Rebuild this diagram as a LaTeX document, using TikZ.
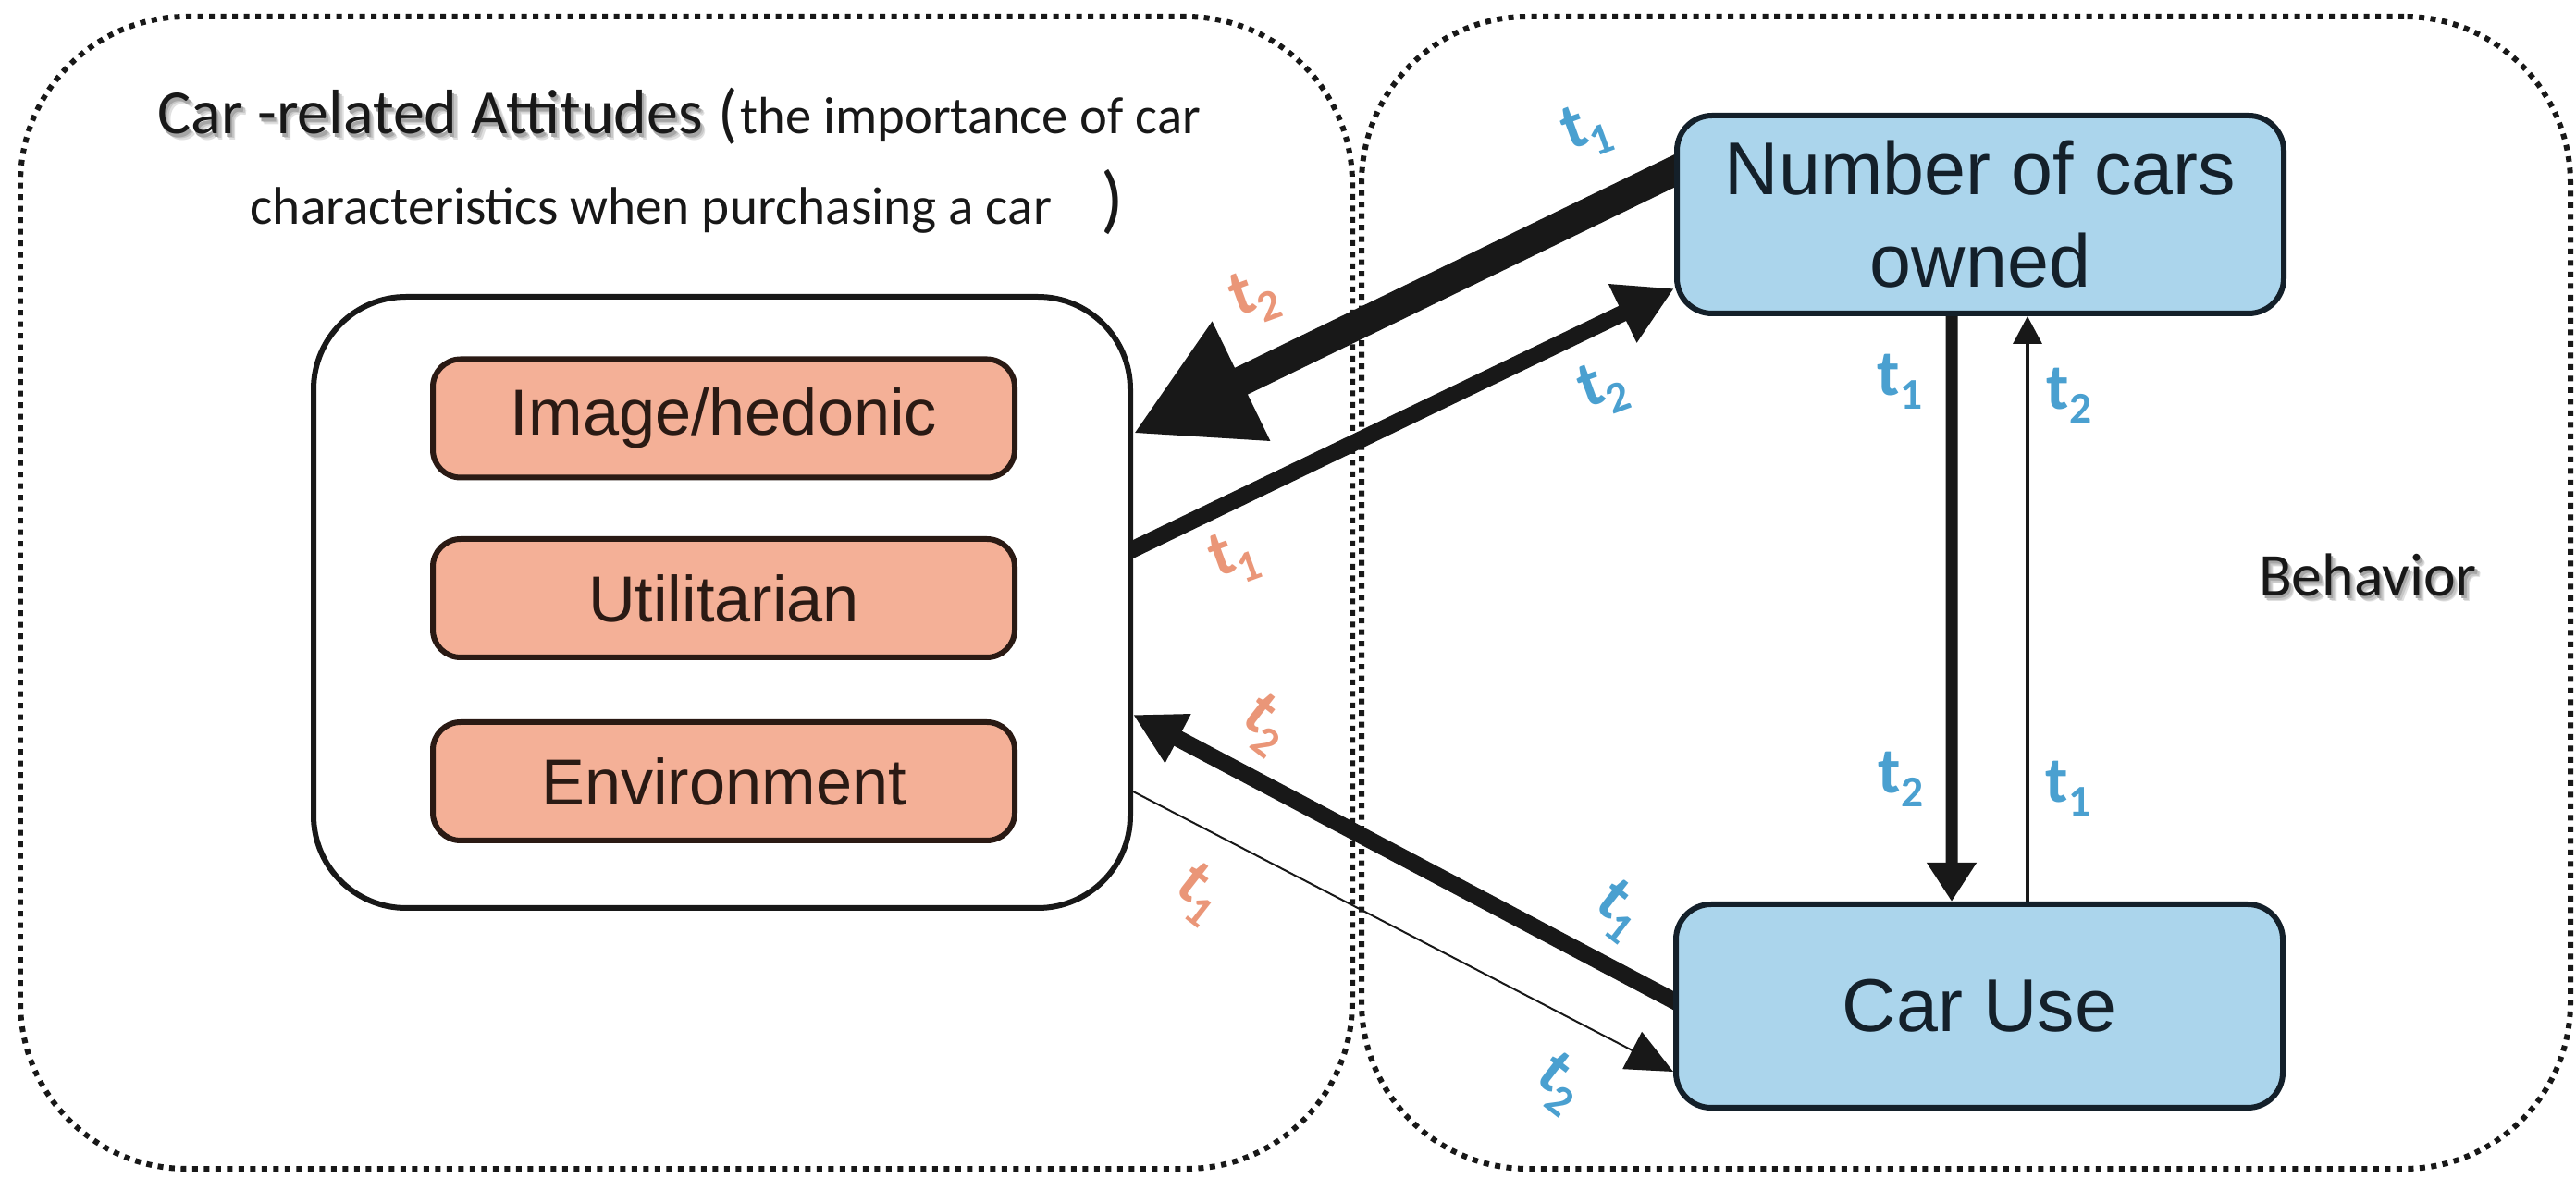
\documentclass[tikz,border=0pt]{standalone}
\usepackage{fontspec}
\setmainfont{Liberation Sans}
\newfontfamily\calibfont{Carlito}
\usetikzlibrary{arrows.meta,calc}

\definecolor{boxblue}{RGB}{171,213,236}
\definecolor{boxorange}{RGB}{244,176,151}
\definecolor{lblblue}{RGB}{74,160,208}
\definecolor{lblorange}{RGB}{234,150,120}
\definecolor{inkblue}{RGB}{20,32,42}
\definecolor{inkbrown}{RGB}{42,26,20}
\definecolor{ink}{RGB}{24,24,24}

% text with a soft grey drop shadow, kept inside one box
\newcommand\shadowed[1]{\leavevmode
  \rlap{\kern1.6pt\raisebox{-1.9pt}{\textcolor{black!12}{#1}}}%
  \rlap{\kern1.2pt\raisebox{-1.4pt}{\textcolor{black!22}{#1}}}%
  \rlap{\kern0.6pt\raisebox{-1.0pt}{\textcolor{black!35}{#1}}}%
  #1}
% time index: t with a large lowered subscript
\newcommand\tidx[1]{t\raisebox{-0.22em}{\fontsize{13.5}{14}\selectfont #1}}

\pgfdeclarelayer{panels}
\pgfdeclarelayer{links}
\pgfsetlayers{panels,links,main}

\tikzset{
  panel/.style={draw=ink, line width=0.06cm, dash pattern=on 0.06cm off 0.065cm,
    rounded corners=1.8cm, inner sep=0pt},
  groupbox/.style={draw=ink, fill=white, line width=0.06cm, rounded corners=1.0cm,
    inner sep=0pt, minimum width=8.83cm, minimum height=6.61cm},
  attitem/.style={draw=inkbrown, fill=boxorange, line width=0.06cm, rounded corners=0.3cm,
    minimum width=6.29cm, minimum height=1.28cm, inner sep=0pt, text=inkbrown,
    font=\fontsize{20}{24}\selectfont},
  behitem/.style={draw=inkblue, fill=boxblue, line width=0.06cm, rounded corners=0.38cm,
    minimum width=6.56cm, inner sep=0pt, text=inkblue, align=center,
    font=\fontsize{23}{28.4}\selectfont},
  tlab/.style={inner sep=0pt, font=\calibfont\bfseries\fontsize{20}{22}\selectfont},
  tblue/.style={tlab, text=lblblue},
  torange/.style={tlab, text=lblorange},
  heading/.style={inner sep=0pt, anchor=base west, text=ink},
  link/.style={draw=ink, line cap=butt},
  bigshaft/.style={link, line width=0.32cm, -{Triangle[length=1.3cm,width=1.34cm]}},
  midshaft/.style={link, line width=0.18cm, -{Triangle[length=0.62cm,width=0.66cm]}},
  lowshaft/.style={link, line width=0.18cm, -{Triangle[length=0.55cm,width=0.56cm]}},
  fineshaft/.style={link, line width=0.02cm, -{Triangle[length=0.5cm,width=0.45cm]}},
  downshaft/.style={link, line width=0.13cm, -{Triangle[length=0.42cm,width=0.51cm]}},
  upshaft/.style={link, line width=0.035cm, -{Triangle[length=0.3cm,width=0.31cm]}},
  titlefont/.style={font=\calibfont\fontsize{19.3}{23}\selectfont},
  behfont/.style={font=\calibfont\fontsize{18.7}{22}\selectfont},
}

\begin{document}
\begin{tikzpicture}
\useasboundingbox (0,0) rectangle (27.85,-12.74);

% attitude group and its three items
\node[groupbox] (grp) at (7.805,-6.515) {};
\node[attitem] (img) at (7.825,-4.525) {Image/hedonic};
\node[attitem] (util) at (7.825,-6.47) {Utilitarian};
\node[attitem] (env) at (7.825,-8.45) {Environment};

% behaviour boxes
\node[behitem, minimum height=2.14cm] (num) at (21.41,-2.32) {Number of cars\\owned};
\node[behitem, minimum height=2.20cm] (use) at (21.40,-10.88) {Car Use};

% dotted panels
\begin{pgfonlayer}{panels}
\fill[white] (0,0) rectangle (27.85,-12.74);
\node[panel, minimum width=14.40cm, minimum height=12.46cm] (attpanel) at (7.42,-6.41) {};
\node[panel, minimum width=13.07cm, minimum height=12.46cm] (behpanel) at (21.255,-6.41) {};
\end{pgfonlayer}

% panel headings
\node[heading, titlefont] (ttl) at (1.70,-1.45) {\shadowed{Car -related Attitudes}};
\node[heading, font=\calibfont\fontsize{20}{22}\selectfont] (lpar) at (7.76,-1.47) {(};
\node[heading, font=\calibfont\fontsize{16.1}{20}\selectfont] (ttlb) at (8.00,-1.45) {the importance of car};
\node[heading, font=\calibfont\fontsize{16.3}{20}\selectfont] (ttlc) at (2.70,-2.43) {characteristics when purchasing a car};
\node[heading, font=\calibfont\fontsize{23}{26}\selectfont] (rpar) at (11.90,-2.43) {)};
\node[behfont, text=ink] (beh) at (25.60,-6.25) {\shadowed{Behavior}};

% connectors
\begin{pgfonlayer}{links}
\coordinate (b1) at ([yshift=0.47cm]num.west);
\coordinate (b2) at ([yshift=1.825cm]grp.east);
\draw[bigshaft] ($(b1)!-0.4cm!(b2)$) -- (b2);
\coordinate (m1) at ([yshift=0.575cm]grp.east);
\coordinate (m2) at ([yshift=-0.80cm]num.west);
\draw[midshaft] ($(m1)!-0.3cm!(m2)$) -- (m2);
\coordinate (l1) at ([yshift=0.06cm]use.west);
\coordinate (l2) at ([yshift=-1.215cm]grp.east);
\draw[lowshaft] ($(l1)!-0.3cm!(l2)$) -- (l2);
\coordinate (f1) at ([yshift=-2.045cm]grp.east);
\coordinate (f2) at ([yshift=-0.71cm]use.west);
\draw[fineshaft] (f1) -- (f2);
\draw[downshaft] ([xshift=-0.31cm]num.south) -- ([xshift=-0.30cm]use.north);
\draw[upshaft] ([xshift=0.52cm]use.north) -- ([xshift=0.51cm]num.south);
\end{pgfonlayer}

% time labels
\node[tblue, rotate=20] (lb1) at (17.15,-1.41) {\tidx{1}};
\node[tblue, rotate=20] (lb2) at (17.33,-4.20) {\tidx{2}};
\node[torange, rotate=20] (lo1) at (13.56,-3.21) {\tidx{2}};
\node[torange, rotate=20] (lo2) at (13.34,-6.03) {\tidx{1}};
\node[torange, rotate=-38] (lo3) at (13.68,-7.84) {\tidx{2}};
\node[torange, rotate=-38] (lo4) at (12.96,-9.67) {\tidx{1}};
\node[tblue, rotate=-38] (lb3) at (17.50,-9.85) {\tidx{1}};
\node[tblue, rotate=-38] (lb4) at (16.86,-11.72) {\tidx{2}};
\node[tblue] (lv1) at (20.54,-4.13) {\tidx{1}};
\node[tblue] (lv2) at (22.37,-4.28) {\tidx{2}};
\node[tblue] (lv3) at (20.55,-8.43) {\tidx{2}};
\node[tblue] (lv4) at (22.36,-8.53) {\tidx{1}};
\end{tikzpicture}
\end{document}
